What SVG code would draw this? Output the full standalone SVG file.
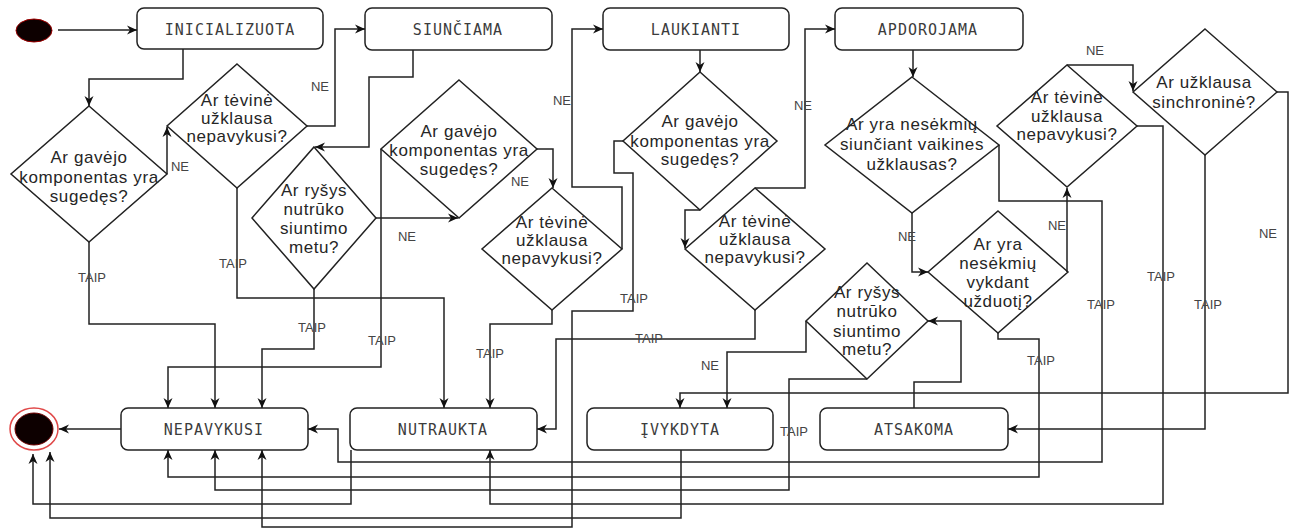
<svg xmlns="http://www.w3.org/2000/svg" width="1292" height="531" viewBox="0 0 1292 531">
<style>
.box{fill:#fff;stroke:#222;stroke-width:1.5}
.dia{fill:#fff;stroke:#222;stroke-width:1.5}
.bt{font-family:"DejaVu Sans Mono","Liberation Mono",monospace;font-size:15px;fill:#3c3c3c;text-anchor:middle;letter-spacing:1px}
.dt{font-family:"Liberation Sans",Arial,sans-serif;font-size:17px;fill:#262626;text-anchor:middle;letter-spacing:0.6px}
.el{font-family:"Liberation Sans",Arial,sans-serif;font-size:13px;fill:#444;text-anchor:middle}
.c{fill:none;stroke:#222;stroke-width:1.5;marker-end:url(#a)}
</style>
<defs>
<marker id="a" viewBox="0 0 10 10" refX="10" refY="5" markerWidth="10" markerHeight="10" markerUnits="userSpaceOnUse" orient="auto">
<path d="M0,0.5 L10,5 L0,9.5 L3,5 z" fill="#111"/>
</marker>
</defs>
<rect width="1292" height="531" fill="#fff"/>

<g id="start"><ellipse cx="34" cy="30.5" rx="18" ry="11.5" fill="#0d0000" stroke="#a00000" stroke-width="1"/></g>
<g id="end"><ellipse cx="34" cy="429" rx="24" ry="21" fill="#fff" stroke="#e04848" stroke-width="1.5"/><ellipse cx="34" cy="429" rx="19" ry="16" fill="#0d0000" stroke="#700000" stroke-width="1"/></g>

<g id="inicializuota"><rect class="box" x="137" y="8" width="186" height="41" rx="7"/><text class="bt" x="230" y="35">INICIALIZUOTA</text></g>
<g id="siunciama"><rect class="box" x="365" y="8" width="187" height="42" rx="7"/><text class="bt" x="458" y="35">SIUNČIAMA</text></g>
<g id="laukianti"><rect class="box" x="603" y="8" width="186" height="42" rx="7"/><text class="bt" x="696" y="35">LAUKIANTI</text></g>
<g id="apdorojama"><rect class="box" x="835" y="8" width="188" height="42" rx="7"/><text class="bt" x="928" y="35">APDOROJAMA</text></g>
<g id="nepavykusi"><rect class="box" x="121" y="408" width="187" height="42" rx="7"/><text class="bt" x="214" y="435">NEPAVYKUSI</text></g>
<g id="nutraukta"><rect class="box" x="350" y="408" width="187" height="42" rx="7"/><text class="bt" x="443" y="435">NUTRAUKTA</text></g>
<g id="ivykdyta"><rect class="box" x="587" y="408" width="186" height="42" rx="7"/><text class="bt" x="680" y="435">ĮVYKDYTA</text></g>
<g id="atsakoma"><rect class="box" x="820" y="408" width="188" height="42" rx="7"/><text class="bt" x="914" y="435">ATSAKOMA</text></g>

<g id="d1"><polygon class="dia" points="89,106 167,174 89,242 11,174"/><text class="dt" x="89" y="163">Ar gavėjo</text><text class="dt" x="89" y="183">komponentas yra</text><text class="dt" x="89" y="202">sugedęs?</text></g>
<g id="d2"><polygon class="dia" points="237,64 307,126 237,188 167,126"/><text class="dt" x="237" y="106">Ar tėvinė</text><text class="dt" x="237" y="124">užklausa</text><text class="dt" x="237" y="142">nepavykusi?</text></g>
<g id="d3"><polygon class="dia" points="314,147 376,218 314,289 252,218"/><text class="dt" x="314" y="196">Ar ryšys</text><text class="dt" x="314" y="215">nutrūko</text><text class="dt" x="314" y="234">siuntimo</text><text class="dt" x="314" y="253">metu?</text></g>
<g id="d4"><polygon class="dia" points="459,80 537,149 459,218 381,149"/><text class="dt" x="459" y="137">Ar gavėjo</text><text class="dt" x="459" y="156">komponentas yra</text><text class="dt" x="459" y="175">sugedęs?</text></g>
<g id="d5"><polygon class="dia" points="552,188 622,249 552,310 482,249"/><text class="dt" x="552" y="228">Ar tėvinė</text><text class="dt" x="552" y="246">užklausa</text><text class="dt" x="552" y="264">nepavykusi?</text></g>
<g id="d6"><polygon class="dia" points="700,72 777,141 700,210 623,141"/><text class="dt" x="700" y="127">Ar gavėjo</text><text class="dt" x="700" y="147">komponentas yra</text><text class="dt" x="700" y="165">sugedęs?</text></g>
<g id="d7"><polygon class="dia" points="755,188 825,249 755,310 685,249"/><text class="dt" x="755" y="227">Ar tėvinė</text><text class="dt" x="755" y="245">užklausa</text><text class="dt" x="755" y="263">nepavykusi?</text></g>
<g id="d8"><polygon class="dia" points="912,77 999,145 912,213 825,145"/><text class="dt" x="912" y="130">Ar yra nesėkmių</text><text class="dt" x="912" y="150">siunčiant vaikines</text><text class="dt" x="912" y="170">užklausas?</text></g>
<g id="d9"><polygon class="dia" points="998,211 1068,272 998,333 928,272"/><text class="dt" x="998" y="250">Ar yra</text><text class="dt" x="998" y="269">nesėkmių</text><text class="dt" x="998" y="288">vykdant</text><text class="dt" x="998" y="307">užduotį?</text></g>
<g id="d10"><polygon class="dia" points="1067,65 1137,126 1067,187 997,126"/><text class="dt" x="1067" y="103">Ar tėvinė</text><text class="dt" x="1067" y="122">užklausa</text><text class="dt" x="1067" y="140">nepavykusi?</text></g>
<g id="d11"><polygon class="dia" points="1205,29 1277,92 1205,155 1133,92"/><text class="dt" x="1204" y="88">Ar užklausa</text><text class="dt" x="1204" y="108">sinchroninė?</text></g>
<g id="d12"><polygon class="dia" points="867,263 928,321 867,379 806,321"/><text class="dt" x="867" y="298">Ar ryšys</text><text class="dt" x="867" y="317">nutrūko</text><text class="dt" x="867" y="337">siuntimo</text><text class="dt" x="867" y="355">metu?</text></g>

<g id="connectors">
<path class="c" d="M58,30 H137"/>
<path class="c" d="M183,49 V79 H89 V106"/>
<path class="c" d="M167,174 V127"/>
<path class="c" d="M307,126 H335 V29 H365"/>
<path class="c" d="M89,242 V324 H215 V408"/>
<path class="c" d="M237,188 V298 H444 V408"/>
<path class="c" d="M413,50 V77 H369 V147 H315"/>
<path class="c" d="M376,218 H458"/>
<path class="c" d="M314,289 V349 H262 V408"/>
<path class="c" d="M381,149 V367 H168 V408"/>
<path class="c" d="M537,149 H553 V188"/>
<path class="c" d="M622,249 V187 H572 V29 H603"/>
<path class="c" d="M552,310 V324 H490 V408"/>
<path class="c" d="M700,50 V72"/>
<path class="c" d="M623,141 H614 V173 H633 V311 H572 V527 H262 V450"/>
<path class="c" d="M700,210 H685 V248"/>
<path class="c" d="M755,188 H805 V29 H835"/>
<path class="c" d="M755,310 V339 H556 V429 H537"/>
<path class="c" d="M913,50 V77"/>
<path class="c" d="M912,213 V272 H928"/>
<path class="c" d="M999,145 V201 H1102 V462 H338 V429 H308"/>
<path class="c" d="M1067,272 V188"/>
<path class="c" d="M998,333 V339 H1039 V477 H168 V450"/>
<path class="c" d="M1067,65 H1133 V91"/>
<path class="c" d="M1137,126 H1163 V504 H490 V450"/>
<path class="c" d="M1277,92 H1288 V393 H680 V408"/>
<path class="c" d="M1205,155 V429 H1008"/>
<path class="c" d="M914,408 V382 H961 V321 H928"/>
<path class="c" d="M806,321 V352 H727 V408"/>
<path class="c" d="M867,379 H789 V490 H215 V450"/>
<path class="c" d="M121,429 H59"/>
<path class="c" d="M351,450 V504 H33 V454"/>
<path class="c" d="M681,450 V518 H50 V452"/>
</g>

<g id="labels">
<text class="el" x="180" y="171">NE</text>
<text class="el" x="320" y="91">NE</text>
<text class="el" x="92" y="282">TAIP</text>
<text class="el" x="233" y="268">TAIP</text>
<text class="el" x="407" y="241">NE</text>
<text class="el" x="312" y="332">TAIP</text>
<text class="el" x="382" y="345">TAIP</text>
<text class="el" x="520" y="186">NE</text>
<text class="el" x="562" y="105">NE</text>
<text class="el" x="490" y="358">TAIP</text>
<text class="el" x="634" y="303">TAIP</text>
<text class="el" x="649" y="343">TAIP</text>
<text class="el" x="803" y="110">NE</text>
<text class="el" x="907" y="241">NE</text>
<text class="el" x="1101" y="309">TAIP</text>
<text class="el" x="1057" y="230">NE</text>
<text class="el" x="1041" y="365">TAIP</text>
<text class="el" x="1095" y="55">NE</text>
<text class="el" x="1161" y="281">TAIP</text>
<text class="el" x="1268" y="238">NE</text>
<text class="el" x="1208" y="309">TAIP</text>
<text class="el" x="710" y="370">NE</text>
<text class="el" x="794" y="436">TAIP</text>
</g>
</svg>
